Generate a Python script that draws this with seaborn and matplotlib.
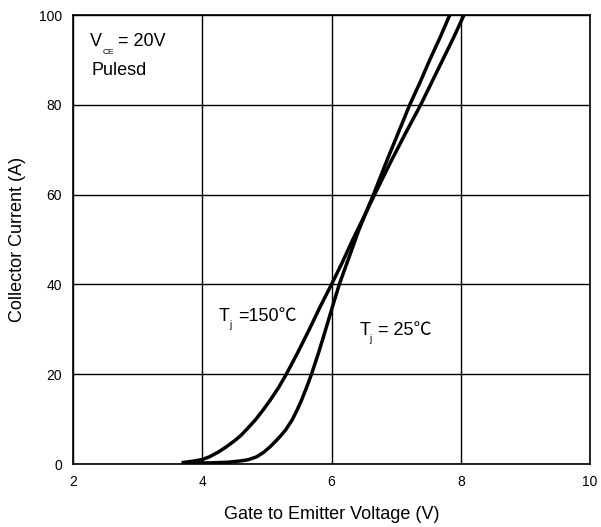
import matplotlib
matplotlib.use("Agg")
import matplotlib.pyplot as plt
import seaborn as sns
import pandas as pd

# Transfer characteristics: collector current vs gate-emitter voltage
vge_150 = [3.68, 3.84, 4.00, 4.11, 4.24, 4.37, 4.51, 4.60, 4.68, 4.82, 4.95, 5.05,
           5.18, 5.30, 5.48, 5.65, 5.82, 6.00, 6.17, 6.33, 6.50, 6.66, 6.92, 7.15,
           7.38, 7.55, 7.72, 7.89, 8.05]
ic_150 = [0.3, 0.6, 1.0, 1.6, 2.6, 3.8, 5.3, 6.4, 7.6, 9.8, 12.2, 14.2,
          17.0, 20.0, 24.9, 29.8, 34.9, 40.0, 45.0, 50.0, 55.0, 59.8, 67.4, 73.8,
          80.0, 85.0, 90.0, 95.0, 100.0]

vge_25 = [3.70, 4.12, 4.40, 4.60, 4.71, 4.84, 4.95, 5.05, 5.15, 5.22, 5.29, 5.39,
          5.46, 5.53, 5.61, 5.69, 5.80, 5.90, 6.01, 6.12, 6.27, 6.42, 6.55, 6.66,
          6.86, 7.04, 7.21, 7.37, 7.52, 7.68, 7.83]
ic_25 = [0.2, 0.25, 0.4, 0.7, 0.95, 1.6, 2.6, 3.85, 5.3, 6.4, 7.6, 9.8,
         11.8, 14.0, 16.9, 20.0, 24.8, 29.5, 34.8, 40.0, 46.0, 52.0, 56.6, 60.4,
         67.7, 74.0, 80.0, 85.0, 90.0, 95.0, 100.0]

x_ticks = [2, 4, 6, 8, 10]
y_ticks = [0, 20, 40, 60, 80, 100]

df = pd.concat([
    pd.DataFrame({"vge": vge_150, "ic": ic_150, "tj": "150"}),
    pd.DataFrame({"vge": vge_25, "ic": ic_25, "tj": "25"}),
], ignore_index=True)

sns.set_theme(style="white")
plt.rcParams["font.family"] = ["Liberation Sans", "DejaVu Sans"]

fig = plt.figure(figsize=(6.01, 5.27), dpi=100)
ax = fig.add_axes([0.1215, 0.1195, 0.8602, 0.852])

sns.lineplot(data=df, x="vge", y="ic", units="tj", estimator=None, sort=False,
             color="black", linewidth=2.5, ax=ax, legend=False,
             solid_joinstyle="round", solid_capstyle="butt")

ax.set_xlim(2, 10)
ax.set_ylim(0, 100)
ax.set_xticks(x_ticks)
ax.set_yticks(y_ticks)
ax.set_xticklabels([str(v) for v in x_ticks])
ax.set_yticklabels([str(v) for v in y_ticks])
ax.tick_params(axis="both", length=0, labelsize=10, colors="black", pad=8)
ax.grid(True, color="black", linewidth=1.0)
ax.set_axisbelow(True)
for s in ax.spines.values():
    s.set_visible(True)
    s.set_color("black")
    s.set_linewidth(1.2)

ax.set_xlabel("Gate to Emitter Voltage (V)", fontsize=13, color="black", labelpad=12)
ax.set_ylabel("Collector Current (A)", fontsize=13, color="black", labelpad=9)

txt = dict(color="black", va="baseline", ha="left")
fam = ["Liberation Sans", "Noto Sans CJK SC", "DejaVu Sans"]
ax.text(2.26, 93.1, "V", fontsize=13, **txt)
ax.text(2.46, 91.3, "CE", fontsize=6, **txt)
ax.text(2.70, 93.1, "= 20V", fontsize=13, **txt)
ax.text(2.28, 86.6, "Pulesd", fontsize=13, **txt)

ax.text(4.26, 31.8, "T", fontsize=13, **txt)
ax.text(4.415, 30.3, "j", fontsize=7, **txt)
ax.text(4.55, 31.8, "=150℃", fontsize=13, family=fam, **txt)

ax.text(6.43, 28.7, "T", fontsize=13, **txt)
ax.text(6.58, 27.2, "j", fontsize=7, **txt)
ax.text(6.72, 28.7, "= 25℃", fontsize=13, family=fam, **txt)

fig.savefig("out.png", dpi=100)
